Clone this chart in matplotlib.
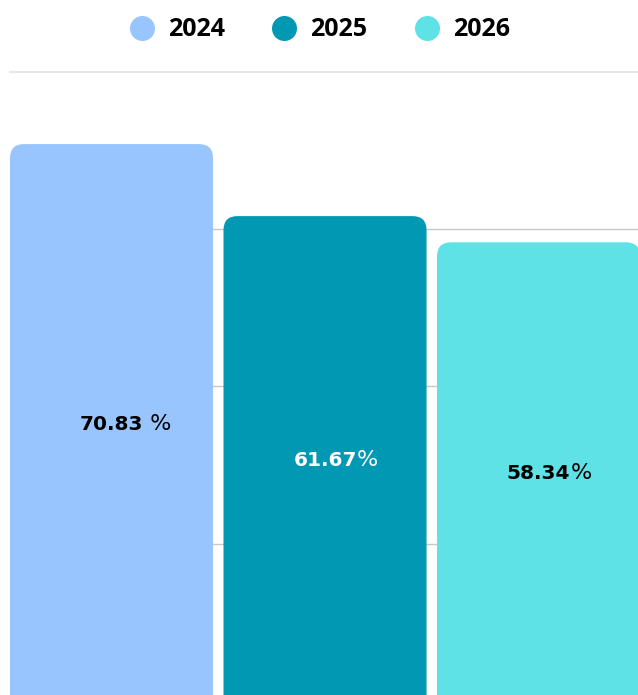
import numpy as np
import matplotlib
matplotlib.use("Agg")
import matplotlib.pyplot as plt
from matplotlib.patches import FancyBboxPatch
from matplotlib.lines import Line2D

# datos
years = ["2024", "2025", "2026"]
values = [70.83, 61.67, 58.34]
labels = ["70.83", "61.67", "58.34"]
pct = [" %", "%", "%"]
colors = ["#99C5FE", "#0098B2", "#5EE2E6"]
text_colors = ["#000000", "#FFFFFF", "#000000"]

plt.rcParams['font.family'] = ['Open Sans', 'DejaVu Sans']

fig = plt.figure(figsize=(6.38, 6.95), dpi=100)
ax = fig.add_axes([10 / 638, 0, 1 - 10 / 638, 1 - 72 / 695])

w = 0.951
x = np.arange(len(values))
bars = ax.bar(x, values, width=w, color=colors)

ax.set_xlim(-w / 2, 2.466)
ax.set_ylim(0.76, 80)

# esquinas redondeadas (radio ~14 px)
px_x = (1 - 10 / 638) * 638 / (2.466 + w / 2)
px_y = (1 - 72 / 695) * 695 / (80 - 0.76)
r = 14 / px_x
for b, c in zip(bars, colors):
    b.set_visible(False)
    p = FancyBboxPatch((b.get_x(), -10), b.get_width(), b.get_height() + 10,
                       boxstyle="round,pad=0,rounding_size=%f" % r,
                       mutation_aspect=px_x / px_y,
                       facecolor=c, edgecolor="none", zorder=2)
    ax.add_patch(p)

# lineas de fondo
ax.set_yticks([20, 40, 60])
ax.yaxis.grid(True, color="#c8c8c8", linewidth=1)
ax.axhline(80, color="#e2e2e2", linewidth=1.2, clip_on=False)
ax.set_axisbelow(True)
ax.tick_params(left=False, bottom=False, labelleft=False, labelbottom=False)
for s in ax.spines.values():
    s.set_visible(False)

# etiquetas
for i, v in enumerate(values):
    t = ax.text(x[i], v / 2, labels[i], ha="center", va="center_baseline",
                fontsize=14.5, fontweight="heavy", color=text_colors[i],
                family="DejaVu Sans", zorder=3)
    ax.annotate(pct[i], xy=(1, 0), xycoords=t, va="bottom", ha="left",
                fontsize=16, fontweight="normal", color=text_colors[i],
                family="DejaVu Sans", zorder=3)

# leyenda
handles = [Line2D([], [], marker="o", linestyle="none", markersize=18,
                  markerfacecolor=c, markeredgecolor="none") for c in colors]
leg = fig.legend(handles, years, loc="center", bbox_to_anchor=(0.4992, 0.957),
                 ncol=3, frameon=False, prop={"weight": "bold", "size": 18},
                 handletextpad=0.44, columnspacing=1.78, handlelength=1.2)

fig.savefig("out.png", dpi=100)
